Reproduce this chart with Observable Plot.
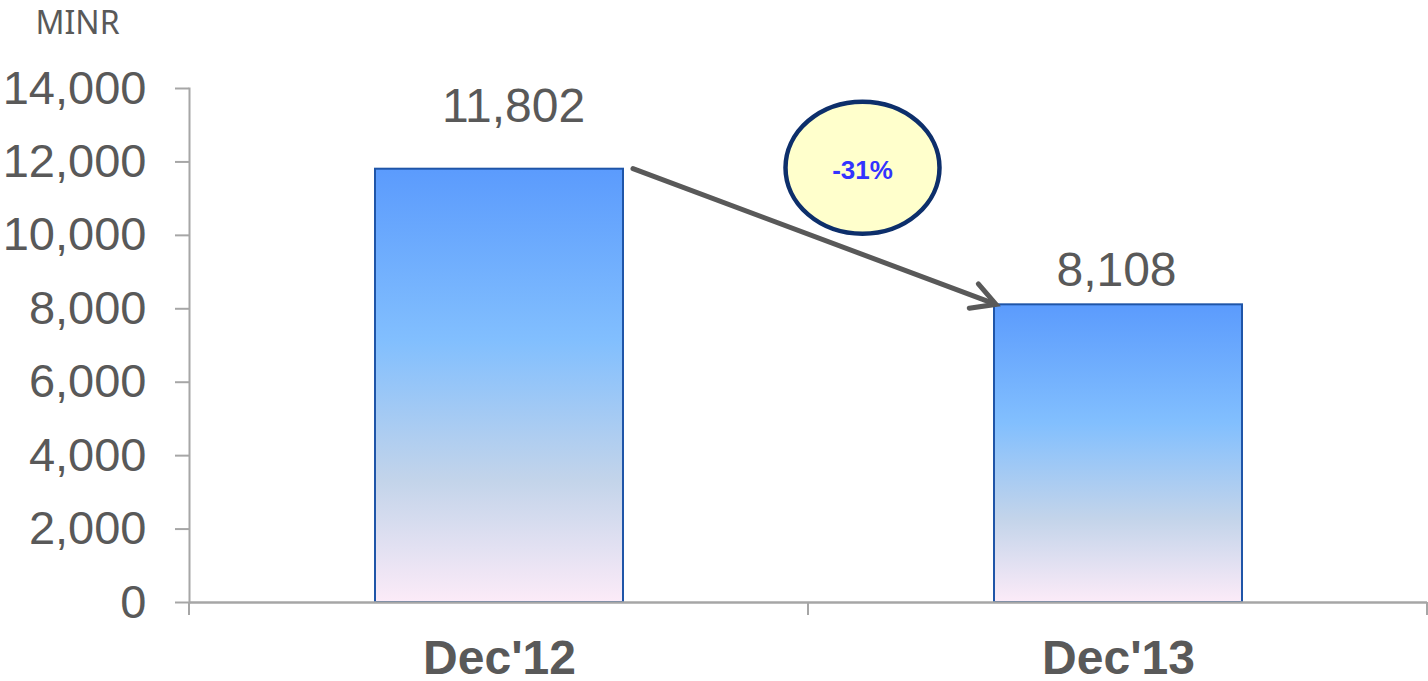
<!DOCTYPE html>
<html>
<head>
<meta charset="utf-8">
<script src="https://cdn.jsdelivr.net/npm/d3@7"></script>
<script src="https://cdn.jsdelivr.net/npm/@observablehq/plot@0.6"></script>
<style>
  html, body { margin: 0; padding: 0; background: #ffffff; }
  #chart svg { display: block; }
</style>
</head>
<body>
<div id="chart"></div>
<script>
// Outstanding amount, in millions of INR
const periods = ["Dec'12", "Dec'13"];
const values = [11802, 8108];
const yTicks = [0, 2000, 4000, 6000, 8000, 10000, 12000, 14000];
const unitLabel = "MINR";

const rows = periods.map((period, i) => ({period, value: values[i]}));
const change = Math.round((values[1] / values[0] - 1) * 100);
const changeLabel = `${change}%`;

const textColor = "#595959";
const axisColor = "#a6a6a6";
const numFont = "Liberation Sans, Arial, sans-serif";

// Vertical gradient shared by both bars (each bar gets it across its own height)
function gradientDefs() {
  const defs = d3.create("svg:defs");
  const grad = defs.append("linearGradient")
    .attr("id", "barFill")
    .attr("x1", 0).attr("y1", 0).attr("x2", 0).attr("y2", 1);
  [[0, "#5b9bfd"], [0.4, "#82bffe"], [0.72, "#c3d4ea"], [1, "#fcebf8"]]
    .forEach(([o, c]) => grad.append("stop").attr("offset", o).attr("stop-color", c));
  return defs.node();
}

// Short ticks below the baseline at the category boundaries
function boundaryTicks(index, scales, vals, dims) {
  const {width, marginLeft, marginRight, height, marginBottom} = dims;
  const n = periods.length;
  const step = (width - marginLeft - marginRight) / n;
  const y0 = height - marginBottom;
  const g = d3.create("svg:g").attr("stroke", axisColor).attr("stroke-width", 2);
  d3.range(n + 1).forEach(k => {
    const x = marginLeft + k * step;
    g.append("line").attr("x1", x).attr("x2", x).attr("y1", y0).attr("y2", y0 + 13);
  });
  return g.node();
}

// Arrow from the top of the first bar to the top of the second, with the change bubble
function changeAnnotation(index, scales, vals, dims) {
  const {x, y} = scales;
  const bw = x.bandwidth();
  const x1 = x(periods[0]) + bw + 10;
  const y1 = y(values[0]);
  const x2 = x(periods[1]) + 2;
  const y2 = y(values[1]);
  const g = d3.create("svg:g");
  g.append("line")
    .attr("x1", x1).attr("y1", y1).attr("x2", x2 - 4).attr("y2", y2 - 1.5)
    .attr("stroke", textColor).attr("stroke-width", 5).attr("stroke-linecap", "round");
  const ang = Math.atan2(y2 - y1, x2 - x1);
  const len = 27, spread = 0.5;
  const head = [ang - spread, ang + spread].map(a => [x2 - len * Math.cos(a), y2 - len * Math.sin(a)]);
  g.append("path")
    .attr("d", `M${head[0][0]},${head[0][1]}L${x2},${y2}L${head[1][0]},${head[1][1]}`)
    .attr("fill", "none").attr("stroke", textColor).attr("stroke-width", 5)
    .attr("stroke-linecap", "round").attr("stroke-linejoin", "miter");
  const cx = (x1 + x2) / 2 + 48;
  const cy = y1 - 1;
  g.append("ellipse")
    .attr("cx", cx).attr("cy", cy).attr("rx", 77).attr("ry", 66)
    .attr("fill", "#ffffcc").attr("stroke", "#0d2f6b").attr("stroke-width", 4.5);
  g.append("text")
    .attr("x", cx).attr("y", cy + 3).attr("dy", "0.32em")
    .attr("text-anchor", "middle")
    .attr("font-family", numFont).attr("font-weight", "bold").attr("font-size", 26)
    .attr("fill", "#3333ff")
    .text(changeLabel);
  return g.node();
}

const chart = Plot.plot({
  width: 1428,
  height: 681,
  marginLeft: 189,
  marginRight: 1,
  marginTop: 88,
  marginBottom: 79,
  style: {background: "#ffffff", fontFamily: numFont, color: textColor},
  x: {domain: periods, paddingInner: 0.6, paddingOuter: 0.3, label: null, axis: null},
  y: {domain: [0, 14000], label: null, axis: null},
  marks: [
    gradientDefs,
    Plot.frame({anchor: "left", stroke: axisColor, strokeWidth: 2}),
    Plot.barY(rows, {x: "period", y: "value", fill: "url(#barFill)", stroke: "#1f55a8", strokeWidth: 2}),
    Plot.ruleY([0], {stroke: axisColor, strokeWidth: 2.5}),
    boundaryTicks,
    Plot.axisY({
      ticks: yTicks, tickSize: 14, tickPadding: 29,
      tickFormat: d3.format(","), fontSize: 47,
      stroke: axisColor, strokeWidth: 2, fill: textColor, label: null
    }),
    Plot.axisX({
      tickSize: 0, tickPadding: 37, fontSize: 48, fontWeight: "bold",
      fill: textColor, label: null
    }),
    Plot.text(rows.slice(0, 1), {
      x: "period", y: "value", text: d => d3.format(",")(d.value),
      lineAnchor: "bottom", dy: -47, dx: 14, fontSize: 48, fill: textColor
    }),
    Plot.text(rows.slice(1), {
      x: "period", y: "value", text: d => d3.format(",")(d.value),
      lineAnchor: "bottom", dy: -19, dx: -2, fontSize: 48, fill: textColor
    }),
    changeAnnotation,
    Plot.text([unitLabel], {
      frameAnchor: "top-left", text: d => d, textAnchor: "start", lineAnchor: "bottom",
      dx: -154, dy: -55, fontSize: 32, fill: textColor,
      fontFamily: "Noto Sans, Open Sans, sans-serif"
    })
  ]
});

document.getElementById("chart").appendChild(chart);
</script>
</body>
</html>
